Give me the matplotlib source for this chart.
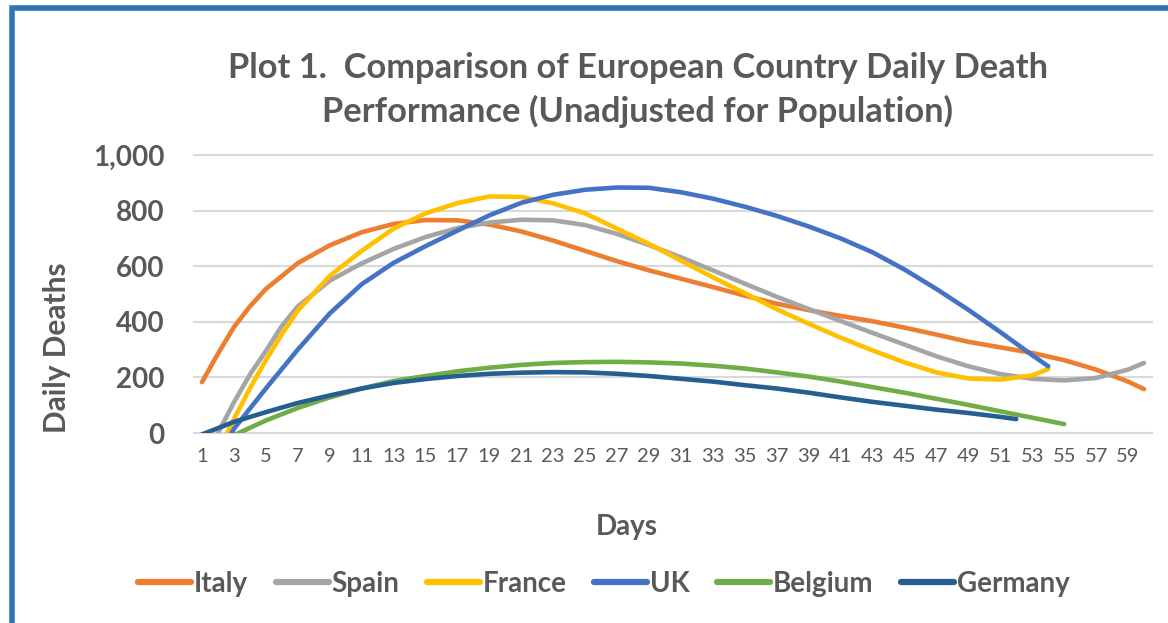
import matplotlib.pyplot as plt
from matplotlib.patches import Rectangle

# Values (daily deaths, trend curves)
italy_days = [1, 2, 3, 4, 5, 7, 9, 11, 13, 15, 17, 19, 21, 23, 25, 27, 29, 31, 33, 35,
              37, 39, 41, 43, 45, 47, 49, 51, 53, 55, 57, 59, 60]
italy = [183, 285, 381, 455, 518, 611, 675, 722, 752, 766, 765, 750, 725, 692, 655, 618, 585,
         555, 525, 494, 465, 442, 421, 402, 379, 354, 328, 308, 288, 262, 228, 185, 158]

spain_days = [1, 2, 3, 4, 5, 6, 7, 9, 11, 13, 15, 17, 19, 21, 23, 25, 27, 29, 31, 33, 35,
              37, 39, 41, 43, 45, 47, 49, 51, 53, 55, 57, 59, 60]
spain = [-130, 0, 110, 210, 295, 385, 455, 548, 610, 662, 705, 737, 757, 767, 765, 748, 716,
         676, 632, 585, 537, 490, 446, 403, 360, 318, 276, 240, 212, 195, 189, 198, 228, 252]

france_days = [1, 2, 3, 4, 5, 6, 7, 9, 11, 13, 15, 17, 19, 21, 23, 25, 27, 29, 31, 33, 35,
               37, 39, 41, 43, 45, 47, 49, 51, 53, 54]
france = [-190, -70, 50, 160, 262, 355, 440, 565, 655, 735, 790, 827, 851, 849, 826, 790,
          735, 680, 620, 560, 503, 445, 393, 343, 297, 254, 218, 196, 192, 207, 230]

uk_days = [1, 2, 3, 5, 7, 9, 11, 13, 15, 17, 19, 21, 23, 25, 27, 29, 31, 33, 35, 37, 39,
           41, 43, 45, 47, 49, 51, 53, 54]
uk = [-200, -90, 15, 160, 300, 430, 535, 612, 672, 728, 783, 828, 857, 875, 883, 882, 866,
      843, 814, 781, 743, 700, 650, 588, 518, 443, 363, 280, 240]

belgium_days = [1, 3, 5, 7, 9, 11, 13, 15, 17, 19, 21, 23, 25, 27, 29, 31, 33, 35, 37, 39,
                41, 43, 45, 47, 49, 51, 53, 55]
belgium = [-60, -8, 45, 90, 128, 160, 187, 205, 222, 235, 245, 252, 255, 256, 254, 250, 242,
           232, 218, 203, 185, 165, 145, 123, 101, 78, 55, 32]

germany_days = [1, 3, 5, 7, 9, 11, 13, 15, 17, 19, 21, 23, 25, 27, 29, 31, 33, 35, 37, 39,
                41, 43, 45, 47, 49, 51, 52]
germany = [-5, 40, 75, 108, 135, 160, 180, 194, 205, 213, 217, 219, 218, 213, 205, 195, 185,
           172, 160, 145, 128, 112, 98, 84, 72, 58, 50]

labels = ['Italy', 'Spain', 'France', 'UK', 'Belgium', 'Germany']
colors = ['#ED7D31', '#A5A5A5', '#FFC000', '#4472C4', '#70AD47', '#255E91']
series = [(italy_days, italy), (spain_days, spain), (france_days, france),
          (uk_days, uk), (belgium_days, belgium), (germany_days, germany)]

y_ticks = [0, 200, 400, 600, 800, 1000]
x_ticks = list(range(1, 61, 2))

W, H = 1168, 623
plt.rcParams['font.family'] = ['Lato', 'DejaVu Sans']
text_gray = '#595959'

fig = plt.figure(figsize=(W / 100, H / 100), dpi=100)

# blue frame (only left and top edges show in the reference)
fig.patches.append(Rectangle((12 / W, -0.1), 1.2, 1.1 - 7.5 / H, transform=fig.transFigure,
                             fill=False, edgecolor='#2E75B6', linewidth=4))

ax = fig.add_axes([194 / W, 1 - 433 / H, (1152 - 194) / W, (433 - 155) / H])
for (d, v), c, lab in zip(series, colors, labels):
    ax.plot(d, v, color=c, linewidth=3.3, solid_capstyle='round', solid_joinstyle='round',
            label=lab)

ax.set_xlim(0.5, 60.5)
ax.set_ylim(0, 1000)
ax.set_yticks(y_ticks)
ax.set_yticklabels([f'{t:,}' for t in y_ticks])
ax.set_xticks(x_ticks)
ax.set_xticklabels([str(t) for t in x_ticks])
ax.tick_params(axis='both', length=0, colors=text_gray)
ax.tick_params(axis='y', pad=21, labelsize=20)
ax.tick_params(axis='x', pad=11, labelsize=14.5)
for t in ax.get_yticklabels():
    t.set_fontweight('bold')
for s in ax.spines.values():
    s.set_visible(False)
ax.grid(axis='y', color='#D9D9D9', linewidth=1.5)
ax.set_axisbelow(True)
for gl in ax.get_ygridlines():
    gl.set_clip_on(False)

fig.text(638 / W, 1 - 90 / H,
         'Plot 1.  Comparison of European Country Daily Death\nPerformance (Unadjusted for Population)',
         ha='center', va='center', fontsize=24.8, fontweight='bold', color=text_gray,
         linespacing=1.4)
fig.text(57 / W, 1 - 348 / H, 'Daily Deaths', rotation=90, ha='center', va='center',
         fontsize=21.5, fontweight='bold', color=text_gray)
fig.text(627 / W, 1 - 527 / H, 'Days', ha='center', va='center',
         fontsize=20, fontweight='bold', color=text_gray)

leg = fig.legend(loc='center', bbox_to_anchor=(604 / W, 1 - 584 / H), ncol=6, frameon=False,
                 handlelength=1.9, handletextpad=0.1, columnspacing=1.0,
                 prop={'weight': 'bold', 'size': 20})
for t in leg.get_texts():
    t.set_color(text_gray)
for h in leg.legend_handles:
    h.set_linewidth(4.5)

fig.savefig('out.png', dpi=100)
